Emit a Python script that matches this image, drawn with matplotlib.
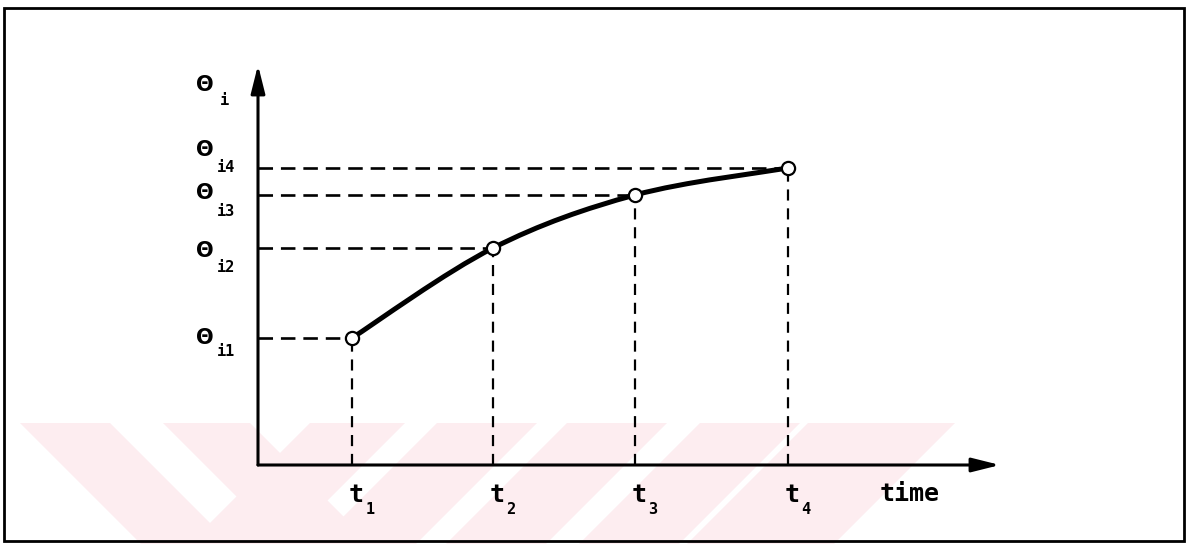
import matplotlib
matplotlib.use("Agg")
import matplotlib.pyplot as plt
import numpy as np
from matplotlib.path import Path
from matplotlib.patches import PathPatch, Polygon, Rectangle

# ---- data ----
time_vals = [0.94, 2.35, 3.77, 5.30]
theta_vals = [1.27, 2.17, 2.70, 2.97]
theta_subs = ['i1', 'i2', 'i3', 'i4']
time_subs = ['1', '2', '3', '4']
x_label = 'time'
y_sub = 'i'
x_max = 7.42
y_max = 4.0

W, H = 1188, 544
fig = plt.figure(figsize=(W / 100, H / 100), dpi=100)
fig.patch.set_facecolor('white')

# ---- background layer (frame + faint watermark), pixel coordinates ----
bg = fig.add_axes([0, 0, 1, 1], zorder=0)
bg.set_xlim(0, W)
bg.set_ylim(H, 0)
bg.axis('off')
pink = '#fdedf0'
y0, y1 = 423, 544
dy = y1 - y0
for a, b in [(20, 110), (163, 250)]:
    bg.add_patch(Polygon([(a, y0), (b, y0), (b + dy, y1), (a + dy, y1)],
                         closed=True, fc=pink, ec='none'))
for a, b in [(310, 405), (437, 537), (567, 667), (700, 800), (808, 955)]:
    bg.add_patch(Polygon([(a, y0), (b, y0), (b - dy, y1), (a - dy, y1)],
                         closed=True, fc=pink, ec='none'))
bg.add_patch(Rectangle((4, 8), 1180, 533, fill=False, ec='black', lw=2.0))

# ---- main diagram axes ----
ax = fig.add_axes([258 / W, (H - 465) / H, 742 / W, 400 / H], zorder=2)
ax.set_xlim(0, x_max)
ax.set_ylim(0, y_max)
ax.axis('off')
ax.patch.set_alpha(0)

arrow_kw = dict(arrowstyle='-|>,head_length=1.0,head_width=0.25', lw=2.2,
                color='black', mutation_scale=17, shrinkA=0, shrinkB=0)
ax.annotate('', xy=(x_max, 0), xytext=(0, 0), arrowprops=arrow_kw,
            annotation_clip=False)
ax.annotate('', xy=(0, y_max), xytext=(0, 0), arrowprops=arrow_kw,
            annotation_clip=False)

# dashed guide lines
for t, th in zip(time_vals, theta_vals):
    ax.plot([0, t], [th, th], color='black', lw=1.9, dashes=(5.5, 3.0),
            dash_capstyle='butt')
    ax.plot([t, t], [0, th], color='black', lw=1.6, dashes=(5.0, 3.5),
            dash_capstyle='butt')

# smooth curve (Catmull-Rom through the points, drawn as Bezier path)
P = np.column_stack([time_vals, theta_vals])
Pext = np.vstack([P[0], P, P[-1]])
verts = [tuple(P[0])]
codes = [Path.MOVETO]
for i in range(len(P) - 1):
    p0, p1, p2, p3 = Pext[i], Pext[i + 1], Pext[i + 2], Pext[i + 3]
    c1 = p1 + (p2 - p0) / 6.0
    c2 = p2 - (p3 - p1) / 6.0
    verts += [tuple(c1), tuple(c2), tuple(p2)]
    codes += [Path.CURVE4] * 3
ax.add_patch(PathPatch(Path(verts, codes), fc='none', ec='black', lw=3.6,
                       capstyle='round', joinstyle='round', zorder=3))
ax.plot(time_vals, theta_vals, 'o', ms=9.5, mfc='white', mec='black',
        mew=1.6, zorder=4)

font_main = dict(family='DejaVu Sans Mono', weight='bold', color='black')
font_theta = dict(family='DejaVu Sans', weight='bold', color='black')

# theta labels
theta_offsets = [((-53, 0), (-41, -14)), ((-53, -3), (-41, -19)),
                 ((-53, 2), (-41, -17)), ((-53, 18), (-41, 0))]
for th, sub, (o1, o2) in zip(theta_vals, theta_subs, theta_offsets):
    ax.annotate('\u0398', xy=(0, th), xytext=o1, textcoords='offset pixels',
                ha='center', va='center', fontsize=15, **font_theta)
    ax.annotate(sub, xy=(0, th), xytext=o2, textcoords='offset pixels',
                ha='left', va='center', fontsize=11, **font_main)

ax.annotate('\u0398', xy=(0, y_max), xytext=(-53, -20),
            textcoords='offset pixels', ha='center', va='center',
            fontsize=15, annotation_clip=False, **font_theta)
ax.annotate(y_sub, xy=(0, y_max), xytext=(-38, -36),
            textcoords='offset pixels', ha='left', va='center',
            fontsize=11, annotation_clip=False, **font_main)

# time labels
for t, sub in zip(time_vals, time_subs):
    ax.annotate('t', xy=(t, 0), xytext=(4, -30), textcoords='offset pixels',
                ha='center', va='center', fontsize=18, annotation_clip=False,
                **font_main)
    ax.annotate(sub, xy=(t, 0), xytext=(18, -45), textcoords='offset pixels',
                ha='center', va='center', fontsize=11, annotation_clip=False,
                **font_main)

ax.annotate(x_label, xy=(6.52, 0), xytext=(0, -29), textcoords='offset pixels',
            ha='center', va='center', fontsize=18, annotation_clip=False,
            **font_main)

fig.savefig('out.png', dpi=100)
